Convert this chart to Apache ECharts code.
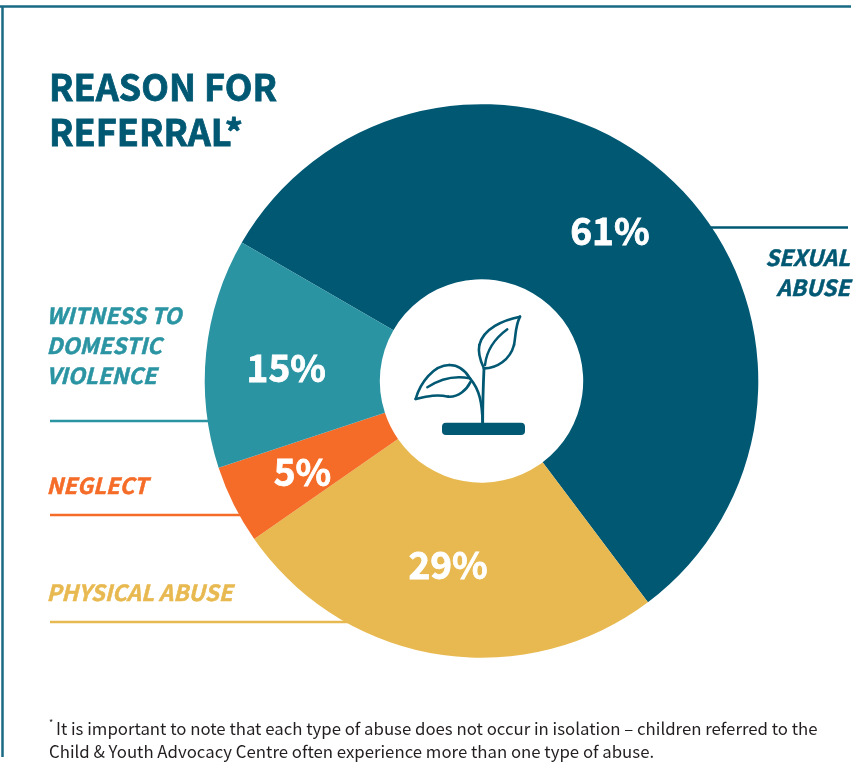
<!DOCTYPE html>
<html><head><meta charset="utf-8">
<style>html,body{margin:0;padding:0;background:#fff}#c{width:858px;height:772px}</style>
<script src="https://cdn.jsdelivr.net/npm/echarts@6/dist/echarts.min.js"></script>
</head><body><div id="c"></div>
<script>
// Printed labels, clockwise from the upper left of the ring
const categories = ['SEXUAL\nABUSE', 'PHYSICAL ABUSE', 'NEGLECT', 'WITNESS TO\nDOMESTIC\nVIOLENCE'];
const printedPercent = [61, 29, 5, 15];
// Printed figures add up to 110; these are the slice sizes as drawn in the picture
const drawnShare = [56.4, 25.6, 4.6, 13.4];
const sliceColors = ['#005873', '#E8B950', '#F56C28', '#2B94A3'];
const titleText = 'REASON FOR\nREFERRAL*';
const noteLines = ['It is important to note that each type of abuse does not occur in isolation – children referred to the',
                   'Child & Youth Advocacy Centre often experience more than one type of abuse.'];
const labelNudge = [[1, -6], [-3, -6], [-7, 5], [-4, 7]];

const FONT = '"Noto Sans CJK SC","Noto Sans",sans-serif';
const DARK = '#005873';
const chart = echarts.init(document.getElementById('c'), null, {renderer: 'canvas'});

const rule = (x1, y1, x2, y2, color, w) => ({type: 'line', z: 0, silent: true,
  shape: {x1, y1, x2, y2}, style: {stroke: color, lineWidth: w}});
const catText = (i, x, y, align) => ({type: 'text', z: 5, silent: true, x, y,
  style: {text: categories[i], fill: sliceColors[i], stroke: sliceColors[i], lineWidth: 0.5, align, verticalAlign: 'top',
    font: 'italic 700 22.3px ' + FONT, lineHeight: 30}});

// Icon strokes in px relative to the 3x crop: [start, cp1, cp2, end, width]
const iconCurves = [
  [[338,458],[336,400],[330,360],[300,325],2.6],
  [[300,325],[285,300],[265,285],[238,285],2.6],
  [[238,285],[190,285],[150,340],[137,387],2.6],
  [[137,387],[175,378],[200,372],[235,380],2.6],
  [[235,380],[265,382],[290,360],[302,335],2.6],
  [[338,458],[338,400],[340,340],[342,295],2.8],
  [[342,295],[380,295],[420,270],[432,225],2.6],
  [[432,225],[438,195],[435,170],[450,140],2.6],
  [[450,140],[400,150],[340,175],[328,225],2.6],
  [[328,225],[322,255],[335,280],[342,295],2.6],
  [[172,352],[205,330],[250,315],[300,325],2.4],
  [[345,285],[350,240],[375,205],[412,178],2.4]
];
const px = v => 370 + v / 3, py = v => 270 + v / 3;
const icon = iconCurves.map(c => ({type: 'bezierCurve', z: 5, silent: true,
  shape: {x1: px(c[0][0]), y1: py(c[0][1]), cpx1: px(c[1][0]), cpy1: py(c[1][1]),
          cpx2: px(c[2][0]), cpy2: py(c[2][1]), x2: px(c[3][0]), y2: py(c[3][1])},
  style: {fill: null, stroke: DARK, lineWidth: c[4], lineCap: 'round'}}));

chart.setOption({
  animation: false,
  backgroundColor: '#fff',
  title: {text: titleText, left: 49, top: 65, padding: 0, itemGap: 0,
    textStyle: {fontFamily: FONT, fontWeight: 700, fontSize: 36, lineHeight: 45, color: DARK,
      textBorderColor: DARK, textBorderWidth: 0.8}},
  series: [{
    type: 'pie', silent: true, center: [481.5, 381], radius: [101.7, 276.8],
    startAngle: 150, clockwise: true, avoidLabelOverlap: false,
    label: {position: 'inside', color: '#fff', fontFamily: FONT, fontWeight: 700, fontSize: 37,
      textBorderColor: '#fff', textBorderWidth: 0.8,
      formatter: p => printedPercent[p.dataIndex] + '%'},
    labelLine: {show: false},
    labelLayout: p => ({dx: labelNudge[p.dataIndex][0], dy: labelNudge[p.dataIndex][1]}),
    itemStyle: {borderWidth: 0},
    data: drawnShare.map((v, i) => ({value: v, name: categories[i], itemStyle: {color: sliceColors[i]}}))
  }],
  graphic: [
    rule(0, 6.5, 851, 6.5, '#1A6A84', 2.5),
    rule(2.5, 6, 2.5, 757, '#1A6A84', 2.5),
    rule(700, 227.5, 848, 227.5, sliceColors[0], 2.5),
    rule(50, 421, 230, 421, sliceColors[3], 2.5),
    rule(50, 515, 260, 515, sliceColors[2], 2.5),
    rule(50, 622, 380, 622, sliceColors[1], 2.5),
    catText(0, 850, 243, 'right'),
    catText(3, 46.5, 301, 'left'),
    catText(2, 46.5, 471, 'left'),
    catText(1, 46.5, 578, 'left'),
    {type: 'rect', z: 5, silent: true, shape: {x: 442, y: 422.7, width: 83, height: 12.3, r: 4}, style: {fill: DARK}},
    ...icon,
    {type: 'text', z: 5, silent: true, x: 49, y: 718, style: {text: '*', fill: '#222', font: '400 9px ' + FONT}},
    {type: 'text', z: 5, silent: true, x: 56, y: 720, style: {text: noteLines[0], fill: '#231F20', font: '400 16.8px ' + FONT}},
    {type: 'text', z: 5, silent: true, x: 49, y: 743, style: {text: noteLines[1], fill: '#231F20', font: '400 16.8px ' + FONT}}
  ]
});
</script></body></html>
